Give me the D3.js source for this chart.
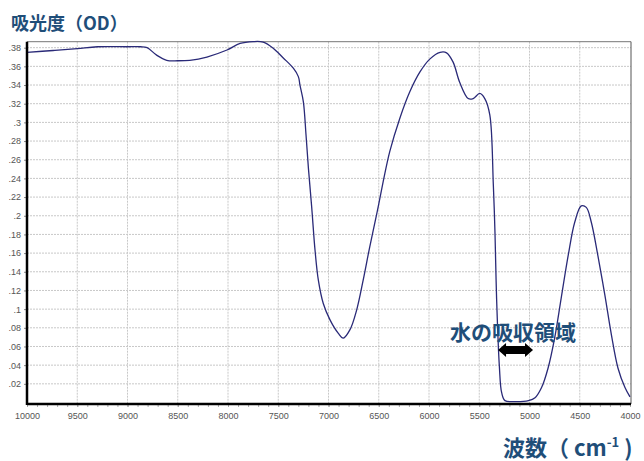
<!DOCTYPE html>
<html>
<head>
<meta charset="utf-8">
<script src="https://cdn.jsdelivr.net/npm/d3@7"></script>
<style>
body { margin: 0; background: #fff; }
</style>
</head>
<body>
<div id="chart"></div>
<script>
// wavenumber (cm-1) and absorbance (OD)
var wavenumbers = [10000, 9740, 9500, 9300, 9000, 8870, 8805, 8710, 8610, 8500, 8380, 8210, 8010, 7880, 7750, 7650, 7550, 7450, 7350, 7300, 7284, 7250, 7224, 7200, 7167, 7134, 7101, 7052, 6985, 6902, 6853, 6786, 6720, 6655, 6590, 6520, 6455, 6390, 6290, 6190, 6090, 5990, 5890, 5825, 5760, 5695, 5610, 5560, 5495, 5445, 5395, 5360, 5343, 5327, 5300, 5277, 5244, 5150, 5010, 4945, 4880, 4815, 4750, 4685, 4615, 4550, 4485, 4435, 4385, 4320, 4250, 4185, 4120, 4050, 4000];
var absorbance = [0.375, 0.377, 0.379, 0.381, 0.381, 0.381, 0.380, 0.372, 0.3665, 0.366, 0.3665, 0.370, 0.3775, 0.3845, 0.3865, 0.386, 0.3795, 0.369, 0.358, 0.349, 0.340, 0.322, 0.287, 0.251, 0.209, 0.163, 0.131, 0.106, 0.0885, 0.074, 0.069, 0.078, 0.099, 0.131, 0.1665, 0.202, 0.237, 0.269, 0.3045, 0.333, 0.354, 0.368, 0.375, 0.3745, 0.3645, 0.343, 0.3255, 0.3255, 0.331, 0.3255, 0.308, 0.2335, 0.180, 0.110, 0.039, 0.0105, 0.002, 0.001, 0.002, 0.005, 0.016, 0.037, 0.069, 0.1115, 0.1575, 0.193, 0.2105, 0.209, 0.193, 0.1575, 0.115, 0.0725, 0.037, 0.016, 0.006];
var xTicks = [10000, 9500, 9000, 8500, 8000, 7500, 7000, 6500, 6000, 5500, 5000, 4500, 4000];
var yTicks = [0.02, 0.04, 0.06, 0.08, 0.1, 0.12, 0.14, 0.16, 0.18, 0.2, 0.22, 0.24, 0.26, 0.28, 0.3, 0.32, 0.34, 0.36, 0.38];

var data = wavenumbers.map(function(w, i) { return {wn: w, od: absorbance[i]}; });

var width = 644, height = 461;
var pL = 27, pR = 631, pT = 41.7, pB = 404;

var svg = d3.select("#chart").append("svg")
    .attr("width", width)
    .attr("height", height);

var x = d3.scaleLinear().domain([10000, 4000]).range([pL, pR - 1]);
var y = d3.scaleLinear().domain([-0.0016, 0.3864]).range([pB, pT]);

// grid
svg.append("g").selectAll("line")
    .data(yTicks)
    .enter().append("line")
    .attr("x1", pL).attr("x2", pR)
    .attr("y1", function(d) { return y(d); })
    .attr("y2", function(d) { return y(d); })
    .attr("stroke", "#c8c8c8")
    .attr("stroke-dasharray", "2,1");

svg.append("g").selectAll("line")
    .data(xTicks.slice(1, -1))
    .enter().append("line")
    .attr("x1", function(d) { return x(d); })
    .attr("x2", function(d) { return x(d); })
    .attr("y1", pT).attr("y2", pB)
    .attr("stroke", "#c8c8c8")
    .attr("stroke-dasharray", "2,1");

// frame
svg.append("line").attr("x1", pL).attr("x2", pR).attr("y1", pT).attr("y2", pT)
    .attr("stroke", "#777").attr("stroke-width", 1);
svg.append("line").attr("x1", pR).attr("x2", pR).attr("y1", pT).attr("y2", pB)
    .attr("stroke", "#555").attr("stroke-width", 1);

// curve
var line = d3.line()
    .x(function(d) { return x(d.wn); })
    .y(function(d) { return y(d.od); })
    .curve(d3.curveCatmullRom.alpha(0.5));

svg.append("clipPath").attr("id", "clip")
    .append("rect").attr("x", pL).attr("y", pT - 2).attr("width", pR - pL).attr("height", pB - pT + 2);

svg.append("path")
    .datum(data)
    .attr("clip-path", "url(#clip)")
    .attr("fill", "none")
    .attr("stroke", "#2a2a78")
    .attr("stroke-width", 1.3)
    .attr("d", line);

// axes
var yAxis = svg.append("g")
    .attr("transform", "translate(" + pL + ",0)")
    .call(d3.axisLeft(y).tickValues(yTicks).tickSize(3)
        .tickFormat(function(d) { return d3.format("~g")(d).replace(/^0/, ""); }));
yAxis.select(".domain").remove();
yAxis.selectAll("text").attr("font-family", "Arial, 'Liberation Sans', sans-serif").attr("font-size", 9).attr("fill", "#555");
yAxis.selectAll("line").attr("stroke", "#888");

var minorTicks = d3.range(10000, 3999, -100);
var xMinor = svg.append("g")
    .attr("transform", "translate(0," + pB + ")")
    .call(d3.axisBottom(x).tickValues(minorTicks).tickSize(3).tickFormat(""));
xMinor.select(".domain").remove();
xMinor.selectAll("line").attr("stroke", "#aaa");

var xAxis = svg.append("g")
    .attr("transform", "translate(0," + pB + ")")
    .call(d3.axisBottom(x).tickValues(xTicks).tickSize(3).tickPadding(6).tickFormat(d3.format("d")));
xAxis.select(".domain").remove();
xAxis.selectAll("line").attr("stroke", "#aaa");
xAxis.selectAll("text").attr("font-family", "Arial, 'Liberation Sans', sans-serif").attr("font-size", 9).attr("fill", "#555");

svg.append("line").attr("x1", pL).attr("x2", pL).attr("y1", pT).attr("y2", pB + 1)
    .attr("stroke", "#000").attr("stroke-width", 2.5);
svg.append("line").attr("x1", pL).attr("x2", pR).attr("y1", pB).attr("y2", pB)
    .attr("stroke", "#000").attr("stroke-width", 2.5);

// titles
var blue = "#1f4e79";
svg.append("text")
    .attr("x", 11).attr("y", 30)
    .attr("font-family", "'Noto Sans CJK JP', sans-serif")
    .attr("font-weight", "bold")
    .attr("font-size", 18)
    .attr("fill", blue)
    .text("吸光度（OD）");

var xt = svg.append("text")
    .attr("x", 503).attr("y", 456)
    .attr("font-family", "'Noto Sans CJK JP', sans-serif")
    .attr("font-weight", "bold")
    .attr("font-size", 22)
    .attr("fill", blue);
xt.append("tspan").text("波数（ cm");
xt.append("tspan").attr("font-size", 13).attr("dy", -9).text("-1");
xt.append("tspan").attr("dy", 9).text(" )");

// annotation
svg.append("text")
    .attr("x", 450).attr("y", 340)
    .attr("font-family", "'Noto Sans CJK JP', sans-serif")
    .attr("font-weight", "bold")
    .attr("font-size", 21)
    .attr("fill", blue)
    .text("水の吸収領域");

var ax1 = x(5313), ax2 = x(4965), ay = 350;
svg.append("path")
    .attr("d", "M" + ax1 + "," + ay + "l8,-7v3h" + (ax2 - ax1 - 16) + "v-3l8,7l-8,7v-3h" + (-(ax2 - ax1 - 16)) + "v3z")
    .attr("fill", "#000");
</script>
</body>
</html>
